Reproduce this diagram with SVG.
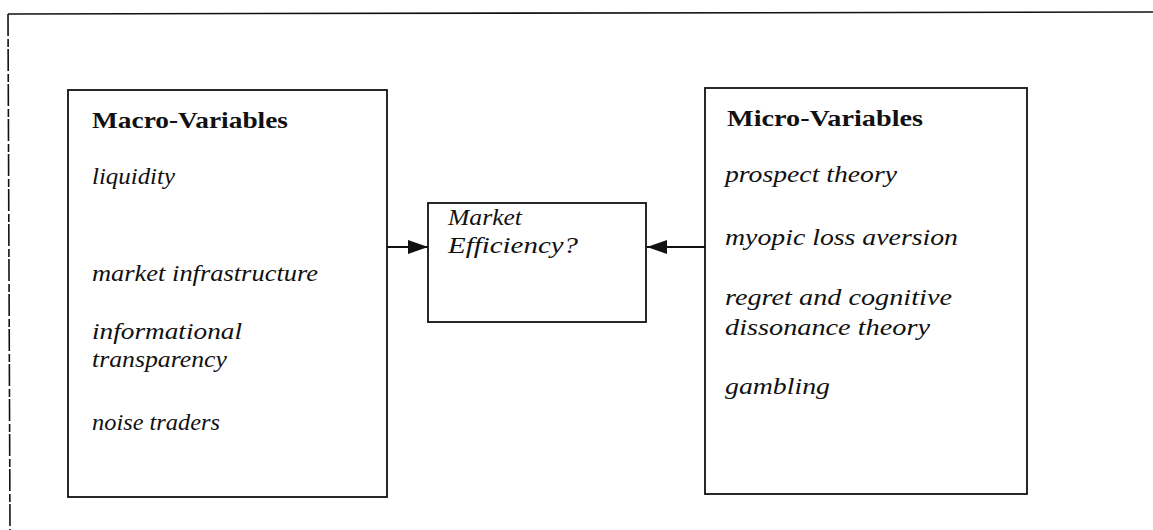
<svg xmlns="http://www.w3.org/2000/svg" width="1153" height="530" viewBox="0 0 1153 530">
  <style>
    .frame { fill: none; stroke: #111; stroke-width: 1.6; }
    .box { fill: #fff; stroke: #111; stroke-width: 1.8; }
    text { font-family: 'Liberation Serif', 'Times New Roman', Times, serif; font-size: 24px; fill: #111; }
    .title { font-weight: bold; }
    .item { font-style: italic; }
    .link { stroke: #111; stroke-width: 1.8; fill: none; }
  </style>
  <defs>
    <marker id="head" markerUnits="userSpaceOnUse" viewBox="0 0 20 14" refX="20" refY="7" markerWidth="20" markerHeight="14" orient="auto">
      <path d="M0,0 L20,7 L0,14 z" fill="#111"/>
    </marker>
  </defs>

  <rect width="1153" height="530" fill="#fff"/>

  <!-- outer frame: top rule and left rule -->
  <g id="frame">
    <line class="frame" x1="8" y1="14" x2="1153" y2="12"/>
    <line class="frame" x1="8" y1="14" x2="10" y2="530" stroke-width="1.2" stroke-dasharray="22 3 8 2"/>
  </g>

  <g id="macro">
    <rect class="box" x="68" y="90" width="319" height="407"/>
    <text class="title" x="92" y="128" textLength="196" lengthAdjust="spacingAndGlyphs">Macro-Variables</text>
    <text class="item" x="92" y="184" textLength="83" lengthAdjust="spacingAndGlyphs">liquidity</text>
    <text class="item" x="92" y="281" textLength="226" lengthAdjust="spacingAndGlyphs">market infrastructure</text>
    <text class="item" x="92" y="339" textLength="150" lengthAdjust="spacingAndGlyphs">informational</text>
    <text class="item" x="92" y="367" textLength="135" lengthAdjust="spacingAndGlyphs">transparency</text>
    <text class="item" x="92" y="430" textLength="128" lengthAdjust="spacingAndGlyphs">noise traders</text>
  </g>

  <g id="efficiency">
    <rect class="box" x="428" y="203" width="218" height="119"/>
    <text class="item" x="448" y="225" textLength="74" lengthAdjust="spacingAndGlyphs">Market</text>
    <text class="item" x="448" y="253" textLength="130" lengthAdjust="spacingAndGlyphs">Efficiency?</text>
  </g>

  <g id="micro">
    <rect class="box" x="705" y="88" width="322" height="406"/>
    <text class="title" x="727" y="126" textLength="196" lengthAdjust="spacingAndGlyphs">Micro-Variables</text>
    <text class="item" x="725" y="182" textLength="172" lengthAdjust="spacingAndGlyphs">prospect theory</text>
    <text class="item" x="725" y="245" textLength="233" lengthAdjust="spacingAndGlyphs">myopic loss aversion</text>
    <text class="item" x="725" y="305" textLength="227" lengthAdjust="spacingAndGlyphs">regret and cognitive</text>
    <text class="item" x="725" y="335" textLength="205" lengthAdjust="spacingAndGlyphs">dissonance theory</text>
    <text class="item" x="725" y="394" textLength="105" lengthAdjust="spacingAndGlyphs">gambling</text>
  </g>

  <g id="connectors">
    <line class="link" x1="387" y1="247" x2="428" y2="247" marker-end="url(#head)"/>
    <line class="link" x1="705" y1="247" x2="647" y2="247" marker-end="url(#head)"/>
  </g>
</svg>
